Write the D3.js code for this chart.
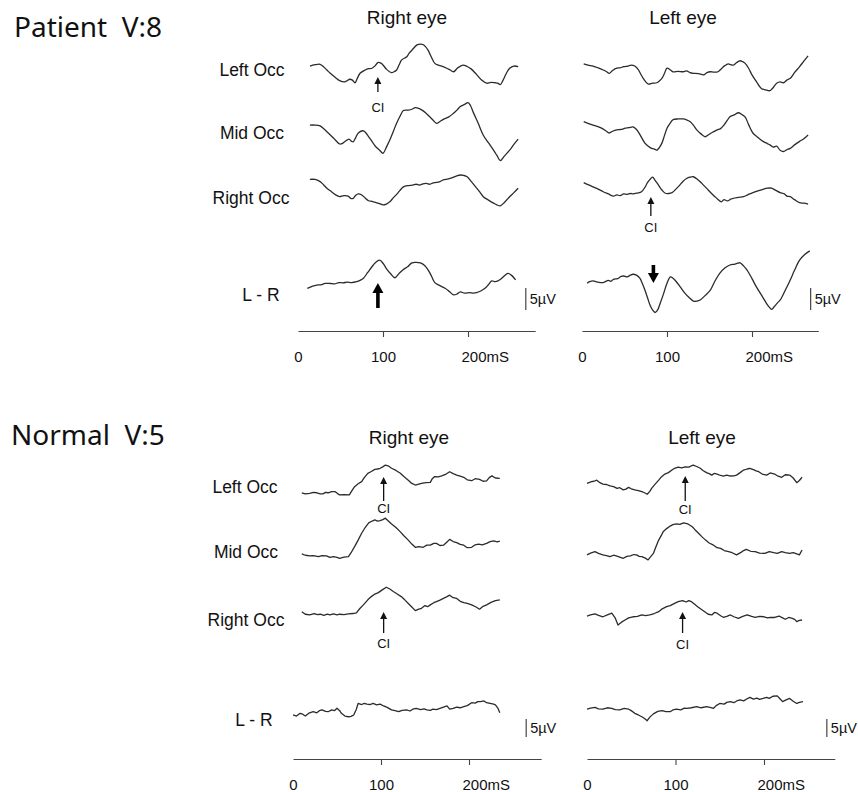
<!DOCTYPE html>
<html><head><meta charset="utf-8">
<script src="https://cdn.jsdelivr.net/npm/d3@7"></script>
<style>body{margin:0;background:#fff}</style>
</head><body>
<svg id="c" width="858" height="792"></svg>
<script>
// ---------------- DATA ----------------
const groupTitles = ["Patient  V:8", "Normal  V:5"];
const eyeTitles = ["Right eye", "Left eye"];
const rowLabels = ["Left Occ", "Mid Occ", "Right Occ", "L - R"];
const tickValues = [0, 100, 200];
const tickLabels = ["0", "100", "200mS"];
const scaleBarValue = 5;
const scaleBarLabel = "5µV";
const ciLabel = "CI";

// Patient, right eye  [time ms, amplitude µV]
const pRightLeftOcc = [[14,0.9],[20,1.2],[26,1.3],[30,0.75],[34,0],[38,-0.75],[44,-1.7],[49,-2.4],[55,-2.7],[58,-2.4],[61,-2.1],[64,-2.3],[67,-2.9],[70,-1.8],[73,-0.75],[79,0],[83,0.3],[87,0.4],[91,1.0],[94,1.7],[98,1.5],[101,0.9],[104,0.2],[110,-0.6],[113,-0.4],[116,0],[119,1.2],[122,2.3],[128,3.0],[131,3.9],[134,4.5],[140,5.7],[144,5.9],[147,5.8],[150,5.3],[153,4.5],[157,2.9],[161,1.5],[165,1.1],[169,0.9],[175,0.4],[179,0],[183,-0.4],[188,0.5],[194,1.1],[199,0.8],[204,0.2],[210,-1.0],[216,-2.3],[222,-3.0],[227,-2.8],[232,-2.9],[235,-3.0],[238,-3.3],[241,-2.4],[245,-0.8],[249,0.4],[254,0.9],[259,0.75]];
const pRightMidOcc = [[14,1.8],[20,1.8],[26,1.6],[30,1.0],[34,0.3],[42,-1.2],[49,-2.5],[52,-2.4],[55,-2.0],[60,-1.4],[63,-1.9],[65,-2.0],[68,-1.0],[71,0],[77,0.5],[80,0],[83,-0.8],[87,-1.9],[91,-3.0],[96,-3.9],[100,-4.6],[104,-3.2],[108,-1.6],[112,0.3],[116,2.2],[120,3.8],[124,5.1],[130,5.2],[134,5.4],[138,5.75],[142,5.6],[146,5.2],[150,4.6],[155,3.7],[159,2.9],[163,2.2],[167,2.6],[171,3.1],[177,3.6],[183,4.5],[187,5.2],[191,6.0],[196,6.5],[200,6.9],[203,6.2],[206,4.8],[212,2.2],[218,-0.5],[224,-2.2],[230,-3.9],[234,-5.1],[238,-6.3],[243,-5.2],[249,-3.9],[254,-2.6],[259,-1.4]];
const pRightRightOcc = [[14,4.0],[20,4.0],[26,3.5],[30,2.8],[34,2.0],[38,1.4],[42,0.8],[46,0.3],[49,0.07],[54,0.3],[59,0.2],[62,-0.3],[65,-0.3],[68,0.4],[71,0.7],[75,0.45],[79,-0.2],[83,-0.85],[87,-1.0],[91,-1.2],[96,-1.5],[100,-1.8],[104,-1.6],[108,-1.1],[112,-0.2],[116,0.6],[120,1.5],[124,2.3],[130,2.6],[135,2.7],[139,2.9],[143,2.7],[147,3.0],[151,3.1],[155,2.9],[159,3.2],[163,3.3],[167,3.5],[171,3.9],[177,4.1],[183,4.5],[187,4.8],[191,5.0],[195,4.9],[199,4.6],[204,3.5],[209,2.3],[214,1.1],[218,0.07],[224,-0.7],[230,-1.4],[234,-1.8],[238,-2.0],[243,-1.2],[249,0.07],[254,1.0],[259,2.0]];
const pRightLR = [[11,-0.3],[16,0.1],[22,0.45],[27,0.5],[32,0.8],[38,0.8],[43,0.7],[48,1.0],[53,0.95],[58,1.1],[63,1.0],[69,1.2],[73,1.5],[77,2.0],[82,3.3],[87,4.6],[91,5.5],[96,6.1],[100,5.4],[104,4.2],[109,3.0],[114,2.1],[119,3.1],[124,4.0],[129,4.6],[134,5.5],[139,5.6],[144,5.5],[149,4.9],[153,3.9],[157,2.5],[161,1.0],[167,0.3],[173,-0.3],[178,-1.0],[183,-1.8],[187,-1.6],[191,-1.1],[196,-1.4],[202,-1.3],[206,-1.4],[210,-1.3],[215,-0.9],[220,-0.3],[224,0.5],[228,1.4],[232,1.2],[238,1.7],[242,2.4],[247,3.1],[251,2.7],[256,1.6]];

// Patient, left eye
const pLeftLeftOcc = [[2,1.4],[7,1.1],[13,0.9],[19,0.5],[25,0],[29,-0.4],[32,-0.75],[36,-0.1],[41,0.4],[45,0.5],[49,0.75],[54,0.9],[58,1.1],[62,0.9],[66,0.15],[69,-0.9],[72,-1.9],[75,-2.7],[78,-3.2],[83,-3.0],[88,-2.9],[91,-2.5],[94,-1.9],[97,-0.8],[100,0.4],[104,0],[107,-0.4],[113,-0.3],[119,-0.4],[123,-0.2],[127,-0.6],[131,-0.75],[137,-0.8],[143,-1.1],[147,-0.6],[151,-0.4],[155,-0.5],[160,-0.4],[164,0.3],[168,1.0],[172,1.4],[175,1.2],[178,1.1],[182,1.7],[186,2.1],[189,1.9],[192,1.5],[196,0.4],[200,-1.1],[205,-2.6],[211,-4.2],[216,-4.5],[221,-4.7],[224,-4.2],[229,-3.0],[233,-2.7],[237,-2.9],[241,-2.3],[245,-1.9],[250,-0.6],[256,0.75],[261,2.0],[266,3.2]];
const pLeftMidOcc = [[2,2.6],[7,2.2],[13,1.8],[18,1.5],[23,1.1],[28,0.5],[32,0],[36,0.4],[41,0.7],[46,0.8],[51,1.1],[55,1.2],[60,1.4],[63,1.0],[66,0.3],[70,-1.0],[74,-2.3],[78,-3.0],[82,-3.5],[86,-3.7],[88,-3.9],[91,-3.3],[94,-2.3],[97,-0.6],[100,1.1],[104,2.3],[107,3.0],[113,3.2],[119,3.2],[123,3.0],[127,2.6],[131,1.8],[135,0.7],[140,-0.2],[145,-0.85],[148,-0.5],[151,-0.1],[155,0.3],[159,0.7],[163,1.0],[167,1.8],[171,2.9],[174,3.7],[179,4.1],[184,4.6],[188,4.2],[192,3.6],[196,1.9],[201,0],[207,-1.0],[213,-1.9],[218,-2.4],[221,-2.7],[225,-3.2],[229,-3.0],[233,-3.9],[237,-4.2],[241,-3.8],[245,-3.5],[250,-2.7],[256,-1.9],[261,-1.3],[266,-0.45]];
const pLeftRightOcc = [[2,3.25],[7,2.8],[13,2.3],[19,1.8],[25,1.2],[31,0.7],[37,0.2],[41,0.5],[45,0.3],[49,0.7],[53,0.6],[57,0.8],[60,0.7],[65,0.9],[70,1.2],[74,2.2],[77,3.25],[80,4.0],[83,4.5],[86,3.8],[90,2.7],[94,1.6],[98,0.85],[102,0.8],[106,1.0],[111,1.9],[115,2.7],[119,3.6],[123,4.2],[127,4.5],[131,4.6],[136,4.0],[141,3.1],[147,1.9],[153,0.7],[158,-0.2],[164,-1.1],[167,-0.6],[171,-0.9],[175,-0.5],[178,-0.3],[184,-0.1],[190,0.07],[195,0.5],[201,1.0],[207,1.4],[213,1.75],[218,2.0],[223,2.0],[228,1.5],[233,1.0],[238,0.7],[241,0.2],[245,0.07],[250,-0.6],[256,-1.3],[261,-1.4],[266,-1.6]];
const pLeftLR = [[6,0.85],[9,1.2],[13,1.4],[19,1.1],[25,1.0],[31,1.5],[34,1.3],[37,1.75],[42,1.9],[46,2.4],[49,2.5],[53,2.3],[57,2.7],[60,2.9],[64,2.7],[68,2.0],[71,0.8],[74,-0.7],[77,-2.4],[80,-4.1],[83,-5.2],[86,-5.8],[89,-5.2],[92,-3.7],[96,-1.5],[100,0.85],[104,2.3],[107,2.0],[111,1.2],[116,-0.1],[121,-1.4],[126,-2.4],[131,-3.2],[135,-3.2],[139,-2.95],[145,-1.9],[151,-0.7],[156,1.2],[162,3.1],[168,4.3],[174,5.0],[180,5.2],[183,5.4],[186,5.5],[190,4.8],[194,3.9],[200,1.9],[205,0.07],[211,-1.8],[217,-3.7],[220,-4.5],[223,-5.1],[226,-4.5],[230,-3.6],[233,-3.0],[239,-0.8],[245,1.6],[250,3.8],[256,6.1],[262,7.4],[268,8.2]];

// Normal, right eye
const nRightLeftOcc = [[10,-1.6],[14,-1.9],[19,-1.75],[23,-1.5],[27,-1.6],[31,-1.9],[34,-1.9],[37,-1.5],[40,-1.6],[44,-1.3],[48,-1.3],[51,-1.9],[53,-2.2],[58,-2.1],[64,-2.2],[67,-1.0],[70,0.1],[74,0.9],[78,1.5],[81,2.6],[85,3.8],[89,4.3],[93,4.9],[96,5.0],[99,5.2],[102,5.6],[105,6.1],[108,5.9],[112,5.2],[117,4.6],[122,3.8],[126,2.9],[131,1.9],[135,1.0],[139,0.55],[143,0.8],[146,1.0],[151,1.2],[156,1.3],[158,2.2],[161,2.9],[165,2.8],[169,3.1],[174,3.6],[178,4.25],[182,3.7],[186,3.3],[190,3.0],[194,2.7],[198,2.0],[203,1.75],[207,2.3],[212,2.1],[216,1.6],[220,1.7],[223,2.6],[226,3.1],[230,2.5],[235,2.4]];
const nRightMidOcc = [[10,-0.55],[14,-0.9],[19,-1.1],[23,-1.0],[29,-1.3],[33,-1.0],[38,-1.1],[42,-1.5],[46,-1.3],[50,-1.5],[53,-1.75],[58,-1.4],[63,-1.3],[66,-0.2],[70,1.5],[74,3.3],[78,5.2],[82,6.8],[86,8.1],[90,8.6],[93,8.9],[96,8.6],[99,8.7],[102,9.0],[105,9.4],[108,8.7],[112,7.8],[117,6.8],[122,5.6],[126,4.5],[131,3.3],[135,2.2],[139,1.3],[143,1.5],[148,1.3],[152,1.9],[156,1.9],[160,2.4],[163,2.4],[167,1.8],[171,1.9],[175,2.8],[178,3.5],[182,2.9],[186,2.6],[190,2.1],[194,1.9],[198,1.2],[203,1.3],[207,2.0],[211,2.2],[215,2.0],[220,2.4],[224,2.9],[228,3.1],[232,2.8],[235,3.05]];
const nRightRightOcc = [[10,2.3],[14,1.6],[19,1.4],[24,1.8],[28,1.5],[31,1.6],[35,1.3],[39,1.6],[42,1.4],[46,1.7],[50,1.4],[53,1.6],[58,1.5],[63,1.7],[68,1.8],[72,2.0],[76,3.2],[80,4.2],[85,5.6],[89,6.5],[93,7.2],[97,7.6],[101,8.3],[106,9.1],[110,8.6],[114,7.9],[118,7.3],[123,6.5],[127,5.6],[131,4.6],[135,3.6],[139,2.6],[143,3.0],[146,3.25],[150,4.0],[153,3.7],[156,4.2],[160,4.8],[163,5.1],[167,5.5],[171,6.0],[175,6.5],[178,6.9],[182,6.2],[186,6.0],[190,5.2],[194,4.8],[198,4.6],[203,4.2],[208,3.6],[212,3.0],[216,3.8],[220,4.2],[225,4.9],[230,5.4],[235,5.6]];
const nRightLR = [[0,1.4],[4,1.1],[8,1.85],[11,1.6],[14,1.1],[18,1.9],[23,2.3],[27,2.0],[30,2.6],[33,2.8],[37,2.4],[40,2.3],[44,2.8],[47,2.6],[50,3.25],[53,2.6],[55,1.85],[59,1.1],[63,0.9],[66,1.0],[69,1.4],[72,3.0],[74,4.6],[78,4.3],[81,4.6],[84,4.4],[88,4.3],[91,4.6],[95,4.2],[99,4.4],[103,3.9],[107,3.5],[112,2.8],[116,2.6],[120,2.3],[124,2.7],[129,2.8],[133,2.5],[136,3.0],[140,3.25],[145,2.9],[149,3.1],[152,2.8],[156,2.7],[159,3.0],[163,2.9],[167,3.25],[171,3.6],[175,3.9],[178,3.0],[182,3.25],[186,3.6],[190,3.4],[194,3.7],[198,4.0],[203,4.8],[207,4.7],[210,5.1],[213,5.1],[217,5.3],[220,4.8],[224,4.6],[228,4.4],[230,4.2],[233,3.2],[235,2.0]];

// Normal, left eye
const nLeftLeftOcc = [[0,1.0],[3,1.3],[5,1.5],[8,1.6],[11,1.9],[14,1.3],[18,0.8],[22,0.7],[26,0.3],[30,0.1],[34,-0.4],[37,-0.2],[41,-0.8],[44,-0.6],[47,-0.1],[50,-0.5],[54,-0.8],[58,-1.0],[62,-1.3],[65,-1.6],[68,-2.0],[71,-1.2],[73,-0.4],[77,0.8],[81,1.9],[84,2.8],[88,3.6],[92,4.0],[96,4.7],[99,5.2],[103,5.5],[107,5.3],[111,5.6],[115,5.5],[120,6.1],[124,5.7],[128,5.2],[131,4.6],[135,4.0],[138,3.7],[141,3.3],[144,3.8],[147,3.6],[151,3.2],[154,3.05],[158,3.3],[162,3.05],[166,3.1],[169,3.3],[173,4.0],[177,4.7],[181,5.0],[184,5.2],[188,4.8],[191,4.5],[194,4.25],[198,3.6],[203,3.3],[207,3.9],[212,3.6],[216,3.0],[220,2.7],[224,3.4],[229,3.3],[233,2.5],[237,1.2],[240,1.8],[243,2.7]];
const nLeftMidOcc = [[0,-0.8],[4,-0.3],[9,0.1],[13,-0.4],[18,-0.8],[22,-1.0],[26,-1.3],[30,-0.9],[33,-1.1],[37,-1.4],[41,-1.75],[45,-1.2],[49,-1.1],[53,-0.7],[56,-0.8],[59,-1.2],[62,-1.3],[66,-1.7],[69,-2.2],[72,-1.3],[75,-0.4],[78,1.5],[81,3.3],[84,4.6],[86,5.6],[90,6.5],[94,7.2],[97,7.6],[101,7.8],[105,7.7],[109,8.1],[114,7.8],[119,7.0],[122,6.2],[126,5.2],[130,4.2],[134,3.3],[138,2.5],[143,1.9],[147,1.2],[151,1.0],[155,0.4],[160,0.1],[164,-0.2],[169,-0.8],[174,-0.1],[177,0.4],[180,0.75],[185,0.2],[190,0.1],[195,-0.3],[201,-0.4],[206,0.1],[211,-0.2],[215,-0.4],[220,0.1],[224,-0.2],[229,-0.4],[233,-0.2],[237,-0.55],[240,-0.8],[243,0.55]];
const nLeftRightOcc = [[0,1.1],[4,1.4],[9,1.7],[13,1.3],[18,0.9],[23,1.4],[28,1.9],[32,0.5],[35,-1.4],[39,-0.6],[43,0],[47,0.6],[52,0.9],[57,1.0],[62,1.4],[66,1.2],[71,1.4],[76,1.8],[81,2.3],[85,3.1],[90,3.7],[94,4.0],[99,4.6],[103,5.1],[108,5.4],[112,5.0],[115,5.4],[118,5.1],[121,4.5],[125,3.7],[129,3.0],[133,2.3],[137,1.6],[141,1.4],[144,2.1],[147,1.9],[151,1.2],[154,0.75],[158,1.0],[162,1.4],[166,0.9],[171,0.45],[176,1.0],[181,1.4],[186,1.0],[190,0.75],[195,1.0],[200,0.9],[204,0.6],[207,0.75],[212,0.7],[217,1.1],[221,0.6],[224,0.2],[228,0.7],[232,0.45],[235,0.1],[237,-0.45],[240,-0.1],[243,0]];
const nLeftLR = [[0,3.0],[4,3.3],[9,3.5],[13,3.1],[18,3.0],[23,3.4],[28,3.25],[32,2.9],[37,2.8],[42,3.2],[47,3.0],[50,2.6],[54,1.85],[58,1.4],[62,0.9],[65,0.4],[68,-0.2],[71,0.8],[75,1.7],[80,2.4],[85,2.6],[89,2.3],[94,2.3],[97,2.8],[101,3.0],[106,2.8],[110,3.3],[113,3.25],[118,3.4],[124,3.7],[129,3.4],[135,3.7],[139,3.5],[143,3.25],[146,4.0],[150,4.6],[155,4.4],[158,4.9],[162,5.1],[166,4.8],[170,5.4],[173,5.6],[177,5.3],[181,5.9],[184,6.3],[188,5.8],[192,6.1],[195,5.75],[199,6.0],[203,6.3],[206,6.0],[210,6.6],[215,6.7],[218,5.9],[221,5.1],[225,5.6],[229,6.0],[233,5.2],[237,4.6],[240,4.9],[244,5.1]];

// Annotation times (ms)
const patientCI = [{eye:0,row:0,t:94},{eye:1,row:2,t:81}];
const patientBold = [{eye:0,row:3,t:94,dir:"up"},{eye:1,row:3,t:84,dir:"down"}];
const normalCI = [{eye:0,row:0,t:103},{eye:0,row:2,t:103},{eye:1,row:0,t:111},{eye:1,row:2,t:108}];

// ---------------- LAYOUT ----------------
const groups = [
  { title: groupTitles[0], titleX: 14, titleY: 37, eyeTitleY: 24,
    rowY: [70,133,197,287], labelY: [76,139,204,301], labelX: [252,252,251,261],
    pxPerUV: 4.4, axisY: 331, smooth: true,
    panels: [ {x0:298, k:0.85, axisEnd:279, titleX:407, barT:268,
               traces:[pRightLeftOcc,pRightMidOcc,pRightRightOcc,pRightLR]},
              {x0:582, k:0.85, axisEnd:278, titleX:683, barT:269,
               traces:[pLeftLeftOcc,pLeftMidOcc,pLeftRightOcc,pLeftLR]} ],
    barLow: -5.2,
    ci: patientCI, ciGeom: [{tip:7,tail:22,lab:42},{tip:0,tail:19,lab:35}],
    bold: patientBold, boldGeom: [{tip:-4,tail:21},{tip:-4,tail:-22}] },
  { title: groupTitles[1], titleX: 11, titleY: 445, eyeTitleY: 444,
    rowY: [487,552,620,720], labelY: [493,558,626,726], labelX: [245,246,246,254],
    pxPerUV: 3.6, axisY: 759, smooth: false,
    panels: [ {x0:293, k:0.88, axisEnd:282, titleX:409, barT:265,
               traces:[nRightLeftOcc,nRightMidOcc,nRightRightOcc,nRightLR]},
              {x0:587, k:0.885, axisEnd:280, titleX:702, barT:271,
               traces:[nLeftLeftOcc,nLeftMidOcc,nLeftRightOcc,nLeftLR]} ],
    barLow: -4.7,
    ci: normalCI, ciGeom: [{tip:-10,tail:14,lab:26},{tip:-8,tail:13,lab:28},{tip:-11,tail:14,lab:27},{tip:-8,tail:13,lab:29}],
    bold: [], boldGeom: [] }
];

const ink = "#2b2b2b";
const svg = d3.select("#c");

groups.forEach(g => {
  svg.append("text").attr("x", g.titleX).attr("y", g.titleY)
    .attr("font-family", "'Noto Sans', sans-serif").attr("font-size", 28)
    .attr("fill", "#111").style("white-space", "pre").text(g.title);

  rowLabels.forEach((lab, i) => {
    svg.append("text").attr("x", g.labelX[i]).attr("y", g.labelY[i])
      .attr("text-anchor", "middle").attr("font-family", "'Liberation Sans', Arial, sans-serif")
      .attr("font-size", 17.5).attr("fill", "#111").text(lab);
  });

  g.panels.forEach((p, pi) => {
    const x = d3.scaleLinear().domain([0, p.axisEnd]).range([p.x0, p.x0 + p.axisEnd * p.k]);
    const yFor = r => d3.scaleLinear().domain([0, 1]).range([g.rowY[r], g.rowY[r] - g.pxPerUV]);

    svg.append("text").attr("x", p.titleX).attr("y", g.eyeTitleY).attr("text-anchor", "middle")
      .attr("font-family", "'Liberation Sans', Arial, sans-serif").attr("font-size", 19)
      .attr("fill", "#111").text(eyeTitles[pi]);

    p.traces.forEach((tr, r) => {
      const y = yFor(r);
      const line = d3.line().x(d => x(d[0])).y(d => y(d[1]))
        .curve(g.smooth ? d3.curveCatmullRom.alpha(0.5) : d3.curveLinear);
      svg.append("path").datum(tr).attr("d", line).attr("fill", "none")
        .attr("stroke", ink).attr("stroke-width", 1.3).attr("stroke-linejoin", "round");
    });

    // scale bar on the L - R row
    const yLR = yFor(3);
    const bx = x(p.barT);
    svg.append("line").attr("x1", bx).attr("x2", bx)
      .attr("y1", yLR(g.barLow)).attr("y2", yLR(g.barLow + scaleBarValue))
      .attr("stroke", "#444").attr("stroke-width", 1.2);
    svg.append("text").attr("x", bx + 4).attr("y", (yLR(g.barLow) + yLR(g.barLow + scaleBarValue)) / 2 + 5)
      .attr("font-family", "'Liberation Sans', Arial, sans-serif").attr("font-size", 14.5)
      .attr("fill", "#111").text(scaleBarLabel);

    // axis
    const axis = d3.axisBottom(x).tickValues(tickValues)
      .tickFormat((d, i) => tickLabels[i]).tickSize(6).tickSizeOuter(0);
    const ag = svg.append("g").attr("transform", `translate(0,${g.axisY})`).call(axis);
    ag.select(".domain").attr("stroke", "#444").attr("stroke-width", 1.1);
    ag.selectAll(".tick line").attr("stroke", "#444").attr("stroke-width", 1.1)
      .attr("opacity", d => d === 0 ? 0 : 1);
    ag.selectAll(".tick text").attr("y", 31).attr("dy", 0)
      .attr("font-family", "'Liberation Sans', Arial, sans-serif").attr("font-size", 15)
      .attr("fill", "#111")
      .attr("text-anchor", (d, i) => i === tickValues.length - 1 ? "start" : "middle")
      .attr("dx", (d, i) => i === tickValues.length - 1 ? -7 : 0);

    // CI arrows
    g.ci.forEach((a, ai) => {
      if (a.eye !== pi) return;
      const geo = g.ciGeom[ai];
      const ax = x(a.t), ry = g.rowY[a.row];
      const tipY = ry + geo.tip;
      svg.append("line").attr("x1", ax).attr("x2", ax).attr("y1", tipY + 5).attr("y2", ry + geo.tail)
        .attr("stroke", "#111").attr("stroke-width", 1.3);
      svg.append("path").attr("d", `M${ax},${tipY} L${ax - 3.5},${tipY + 7} L${ax + 3.5},${tipY + 7} Z`)
        .attr("fill", "#111");
      svg.append("text").attr("x", ax).attr("y", ry + geo.lab).attr("text-anchor", "middle")
        .attr("font-family", "'Liberation Sans', Arial, sans-serif").attr("font-size", 13)
        .attr("fill", "#111").text(ciLabel);
    });

    // bold arrows
    g.bold.forEach((a, ai) => {
      if (a.eye !== pi) return;
      const geo = g.boldGeom[ai];
      const ax = x(a.t), ry = g.rowY[a.row];
      const tipY = ry + geo.tip, tailY = ry + geo.tail;
      const s = a.dir === "up" ? 1 : -1;
      svg.append("line").attr("x1", ax).attr("x2", ax).attr("y1", tipY + s * 8).attr("y2", tailY)
        .attr("stroke", "#000").attr("stroke-width", 3.6);
      svg.append("path").attr("d", `M${ax},${tipY} L${ax - 5.5},${tipY + s * 10} L${ax + 5.5},${tipY + s * 10} Z`)
        .attr("fill", "#000");
    });
  });
});
</script>
</body></html>
